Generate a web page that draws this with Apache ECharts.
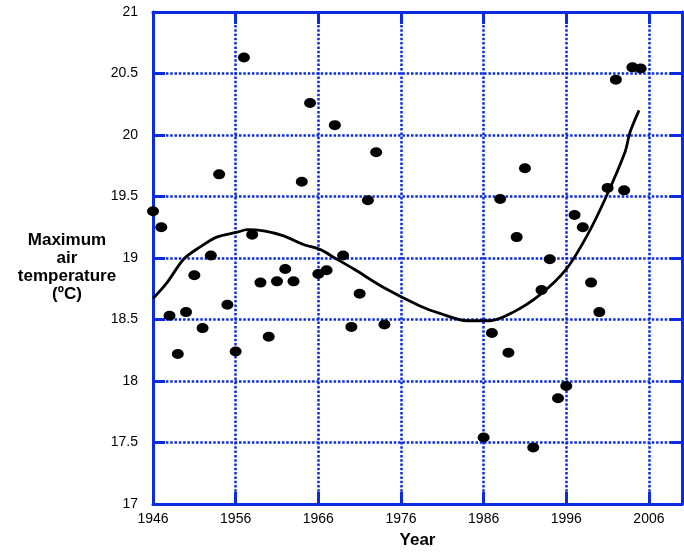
<!DOCTYPE html>
<html lang="en">
<head>
  <meta charset="UTF-8">
  <title>Maximum air temperature</title>
  <script src="https://cdn.jsdelivr.net/npm/echarts@6.0.0/dist/echarts.min.js"></script>
  <style>
    html, body { margin: 0; padding: 0; background: #fff; }
    #chart { width: 684px; height: 554px; }
  </style>
</head>
<body>
  <div id="chart"></div>
  <script>
    // observed annual maximum air temperature (ºC)
    const years = [
      1946, 1947, 1948, 1949, 1950, 1951, 1952, 1953, 1954, 1955,
      1956, 1957, 1958, 1959, 1960, 1961, 1962, 1963, 1964, 1965,
      1966, 1967, 1968, 1969, 1970, 1971, 1972, 1973, 1974,
      1986, 1987, 1988, 1989, 1990, 1991, 1992, 1993, 1994, 1995,
      1996, 1997, 1998, 1999, 2000, 2001, 2002, 2003, 2004, 2005
    ];
    const temps = [
      19.38, 19.25, 18.53, 18.22, 18.56, 18.86, 18.43, 19.02, 19.68, 18.62,
      18.24, 20.63, 19.19, 18.80, 18.36, 18.81, 18.91, 18.81, 19.62, 20.26,
      18.87, 18.90, 20.08, 19.02, 18.44, 18.71, 19.47, 19.86, 18.46,
      17.54, 18.39, 19.48, 18.23, 19.17, 19.73, 17.46, 18.74, 18.99, 17.86,
      17.96, 19.35, 19.25, 18.80, 18.56, 19.57, 20.45, 19.55, 20.55, 20.54
    ];

    // fitted trend curve
    const trendYears = [
      1946, 1947.7, 1949.7, 1951.7, 1953.7, 1956.2, 1957.4, 1959.4, 1961.8, 1964.2,
      1966.2, 1968, 1970.3, 1973.9, 1978.3, 1980.7, 1984, 1986.8, 1989.6, 1992.8,
      1996, 1998.5, 2000.7, 2003.1, 2003.7, 2004.8
    ];
    const trendTemps = [
      18.67, 18.80, 18.99, 19.09, 19.17, 19.21, 19.23, 19.22, 19.18, 19.11,
      19.07, 19.00, 18.91, 18.76, 18.61, 18.55, 18.49, 18.49, 18.56, 18.70,
      18.91, 19.18, 19.48, 19.86, 20.02, 20.20
    ];

    const startYear = 1946;
    const yearTicks = [1946, 1956, 1966, 1976, 1986, 1996, 2006];

    const blue = '#0a2be0';
    const font = '"Liberation Sans", Arial, Helvetica, sans-serif';
    const dotted = { color: blue, width: 2.5, type: [2.5, 1.8] };

    // x axis counts years from 1946 so the ticks land on 1946, 1956, ...
    const points = years.map((y, i) => [y - startYear, temps[i]]);
    const trend = trendYears.map((y, i) => [y - startYear, trendTemps[i]]);

    const chart = echarts.init(document.getElementById('chart'));

    const option = {
      animation: false,
      grid: { left: 153, top: 12, width: 529, height: 494, show: false },
      xAxis: [
        {
          type: 'value', position: 'bottom',
          min: 0, max: 64, interval: 10,
          name: 'Year', nameLocation: 'middle', nameGap: 28,
          nameTextStyle: { fontFamily: font, fontSize: 17, fontWeight: 'bold', color: '#000' },
          axisLine: { show: true, onZero: false, lineStyle: { color: blue, width: 3 } },
          axisTick: { show: true, inside: true, length: 12, lineStyle: { color: blue, width: 3 } },
          axisLabel: {
            margin: 8, fontFamily: font, fontSize: 14, color: '#000',
            showMaxLabel: false,
            formatter: v => yearTicks.includes(v + startYear) ? String(v + startYear) : ''
          },
          splitLine: { show: true, lineStyle: dotted }
        },
        {
          type: 'value', position: 'top',
          min: 0, max: 64, interval: 10,
          axisLine: { show: true, onZero: false, lineStyle: { color: blue, width: 3 } },
          axisTick: { show: true, inside: true, length: 12, lineStyle: { color: blue, width: 3 } },
          axisLabel: { show: false },
          splitLine: { show: false }
        }
      ],
      yAxis: [
        {
          type: 'value', position: 'left',
          min: 17, max: 21, interval: 0.5,
          axisLine: { show: true, onZero: false, lineStyle: { color: blue, width: 3 } },
          axisTick: { show: true, inside: true, length: 12, lineStyle: { color: blue, width: 3 } },
          axisLabel: { margin: 15, fontFamily: font, fontSize: 14, color: '#000' },
          splitLine: { show: true, lineStyle: dotted }
        },
        {
          type: 'value', position: 'right',
          min: 17, max: 21, interval: 0.5,
          axisLine: { show: true, onZero: false, lineStyle: { color: blue, width: 3 } },
          axisTick: { show: true, inside: true, length: 12, lineStyle: { color: blue, width: 3 } },
          axisLabel: { show: false },
          splitLine: { show: false }
        }
      ],
      graphic: [
        {
          type: 'text', x: 67, y: 267,
          style: {
            text: 'Maximum\nair\ntemperature\n(ºC)',
            font: 'bold 17px ' + font,
            lineHeight: 18,
            fill: '#000',
            textAlign: 'center',
            textVerticalAlign: 'middle'
          }
        }
      ],
      series: [
        {
          name: 'Observed',
          type: 'scatter',
          data: points,
          symbol: 'circle',
          symbolSize: [12, 10],
          itemStyle: { color: '#000', opacity: 1 },
          z: 3
        },
        {
          name: 'Trend',
          type: 'line',
          data: trend,
          smooth: 0.3,
          showSymbol: false,
          lineStyle: { color: '#000', width: 2.8 },
          z: 4
        }
      ]
    };

    chart.setOption(option);
  </script>
</body>
</html>
